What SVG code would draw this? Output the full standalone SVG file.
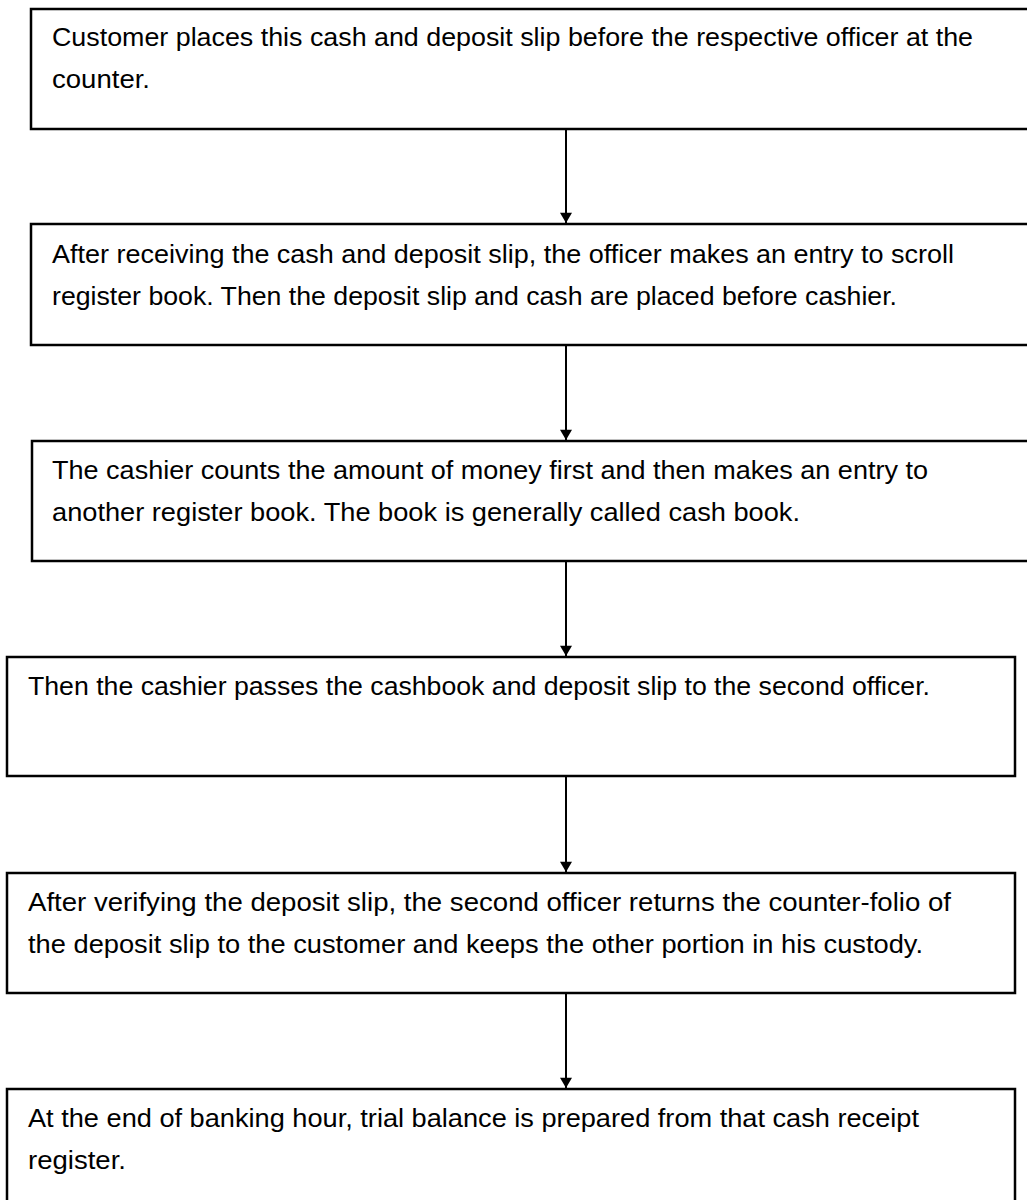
<svg xmlns="http://www.w3.org/2000/svg" width="1027" height="1200" viewBox="0 0 1027 1200">
<defs>
<style>
.box{fill:#fff;stroke:#000;stroke-width:2.5}
.t{font-family:"Liberation Sans",Arial,sans-serif;font-size:25px;fill:#000}
.c{stroke:#000;stroke-width:2;fill:none}
</style>
<marker id="ah" viewBox="0 0 12 14" refX="12" refY="7" markerWidth="14" markerHeight="12" markerUnits="userSpaceOnUse" orient="auto">
<path d="M0,0 L12,7 L0,14 z" fill="#000"/>
</marker>
</defs>
<rect width="1027" height="1200" fill="#fff"/>
<g id="connectors">
<line class="c" x1="566" y1="129" x2="566" y2="223" marker-end="url(#ah)"/>
<line class="c" x1="566" y1="345" x2="566" y2="440" marker-end="url(#ah)"/>
<line class="c" x1="566" y1="561" x2="566" y2="656" marker-end="url(#ah)"/>
<line class="c" x1="566" y1="777" x2="566" y2="872" marker-end="url(#ah)"/>
<line class="c" x1="566" y1="993" x2="566" y2="1088" marker-end="url(#ah)"/>
</g>
<g id="n1">
<rect class="box" x="31" y="9" width="1010" height="120"/>
<text class="t" x="52" y="46" textLength="921" lengthAdjust="spacingAndGlyphs">Customer places this cash and deposit slip before the respective officer at the</text>
<text class="t" x="52" y="88" textLength="98" lengthAdjust="spacingAndGlyphs">counter.</text>
</g>
<g id="n2">
<rect class="box" x="31" y="224" width="1010" height="121"/>
<text class="t" x="52" y="263" textLength="902" lengthAdjust="spacingAndGlyphs">After receiving the cash and deposit slip, the officer makes an entry to scroll</text>
<text class="t" x="52" y="305" textLength="845" lengthAdjust="spacingAndGlyphs">register book. Then the deposit slip and cash are placed before cashier.</text>
</g>
<g id="n3">
<rect class="box" x="32" y="441" width="1010" height="120"/>
<text class="t" x="52" y="479" textLength="876" lengthAdjust="spacingAndGlyphs">The cashier counts the amount of money first and then makes an entry to</text>
<text class="t" x="52" y="521" textLength="748" lengthAdjust="spacingAndGlyphs">another register book. The book is generally called cash book.</text>
</g>
<g id="n4">
<rect class="box" x="7" y="657" width="1008" height="119"/>
<text class="t" x="28" y="695" textLength="902" lengthAdjust="spacingAndGlyphs">Then the cashier passes the cashbook and deposit slip to the second officer.</text>
</g>
<g id="n5">
<rect class="box" x="7" y="873" width="1008" height="120"/>
<text class="t" x="28" y="911" textLength="923" lengthAdjust="spacingAndGlyphs">After verifying the deposit slip, the second officer returns the counter-folio of</text>
<text class="t" x="28" y="953" textLength="895" lengthAdjust="spacingAndGlyphs">the deposit slip to the customer and keeps the other portion in his custody.</text>
</g>
<g id="n6">
<rect class="box" x="7" y="1089" width="1008" height="120"/>
<text class="t" x="28" y="1127" textLength="891" lengthAdjust="spacingAndGlyphs">At the end of banking hour, trial balance is prepared from that cash receipt</text>
<text class="t" x="28" y="1169" textLength="98" lengthAdjust="spacingAndGlyphs">register.</text>
</g>
</svg>
